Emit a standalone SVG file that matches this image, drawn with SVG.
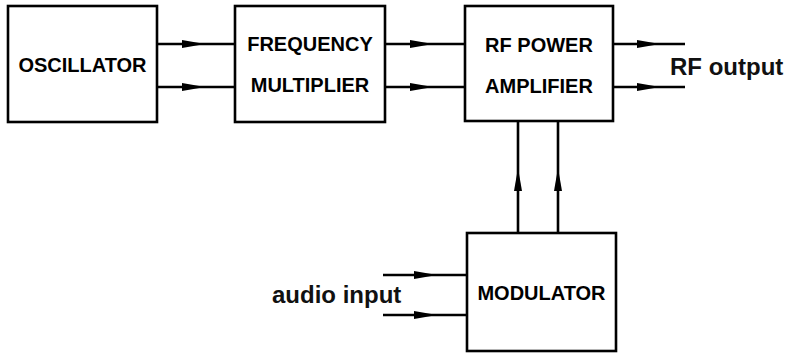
<svg xmlns="http://www.w3.org/2000/svg" width="794" height="354" viewBox="0 0 794 354">
<style>
.box{fill:#fff;stroke:#000;stroke-width:2.6}
.lbl{font-family:"Liberation Sans",Arial,sans-serif;font-weight:bold;font-size:20px;fill:#000;text-anchor:middle}
.big{font-family:"Liberation Sans",Arial,sans-serif;font-weight:bold;font-size:24px;fill:#111}
.wire{fill:none;stroke:#000;stroke-width:2.6;marker-mid:url(#ah)}
</style>
<defs>
<marker id="ah" markerUnits="userSpaceOnUse" viewBox="0 0 24 10" refX="23" refY="5" markerWidth="24" markerHeight="10" orient="auto">
<path d="M0,1 L23,5 L0,9 Z" fill="#000"/>
</marker>
</defs>
<rect width="794" height="354" fill="#fff"/>
<g id="connectors">
<path class="wire" d="M157,44 L205,44 L235,44"/>
<path class="wire" d="M157,87 L205,87 L235,87"/>
<path class="wire" d="M385,44 L433,44 L465,44"/>
<path class="wire" d="M385,87 L433,87 L465,87"/>
<path class="wire" d="M613,44 L660,44 L685,44"/>
<path class="wire" d="M613,87 L660,87 L685,87"/>
<path class="wire" d="M518,233 L518,168 L518,121"/>
<path class="wire" d="M558,233 L558,168 L558,121"/>
<path class="wire" d="M383,275 L437,275 L467,275"/>
<path class="wire" d="M383,315 L437,315 L467,315"/>
</g>
<g id="oscillator">
<rect class="box" x="8" y="6" width="149" height="116"/>
<text class="lbl" x="82.5" y="72">OSCILLATOR</text>
</g>
<g id="frequency-multiplier">
<rect class="box" x="235" y="6" width="150" height="116"/>
<text class="lbl" x="310" y="51">FREQUENCY</text>
<text class="lbl" x="310" y="92">MULTIPLIER</text>
</g>
<g id="rf-power-amplifier">
<rect class="box" x="465" y="6" width="148" height="115"/>
<text class="lbl" x="539" y="52">RF POWER</text>
<text class="lbl" x="539" y="93">AMPLIFIER</text>
</g>
<g id="modulator">
<rect class="box" x="467" y="233" width="149" height="118"/>
<text class="lbl" x="541.5" y="300">MODULATOR</text>
</g>
<g id="labels">
<text class="big" x="670" y="75">RF output</text>
<text class="big" x="272" y="303">audio input</text>
</g>
</svg>
